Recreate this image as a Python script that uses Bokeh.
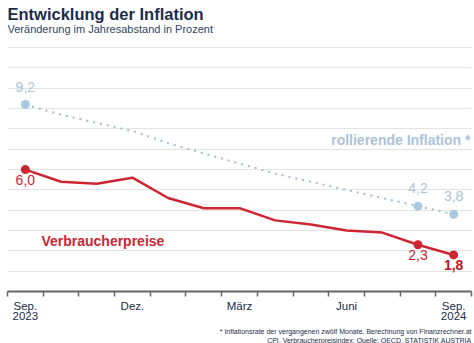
from bokeh.plotting import figure
from bokeh.models import Range1d, FixedTicker, ColumnDataSource, Title
from bokeh.embed import file_html
from bokeh.resources import INLINE
from bokeh.core.properties import value

# ---- data ----
months = ["Sep. 2023", "Okt.", "Nov.", "Dez.", "Jan.", "Feb.", "März",
          "Apr.", "Mai", "Juni", "Juli", "Aug.", "Sep. 2024"]
cpi = [6.0, 5.4, 5.3, 5.6, 4.6, 4.1, 4.1, 3.5, 3.3, 3.0, 2.9, 2.3, 1.8]
rolling = [9.2, 8.7, 8.3, 7.9, 7.3, 6.8, 6.3, 5.8, 5.4, 5.0, 4.6, 4.2, 3.8]
tick_label_idx = [0, 3, 6, 9, 12]
tick_label_txt = ["Sep.\n2023", "Dez.", "März", "Juni", "Sep.\n2024"]
highlight_idx = [0, 11, 12]
grid_values = list(range(1, 13))
title_txt = "Entwicklung der Inflation"
subtitle_txt = "Veränderung im Jahresabstand in Prozent"
foot_txt = ["* Inflationsrate der vergangenen zwölf Monate. Berechnung von Finanzrechner.at",
            "CPI, Verbraucherpreisindex; Quelle: OECD, STATISTIK AUSTRIA"]

FONT = "Liberation Sans"
RED = "#cc2631"
RED_DARK = "#c0151f"
BLUE_PT = "#a9c9e3"
BLUE_LINE = "#a3bccb"
BLUE_TXT = "#abc4d8"
NAVY = "#1c2d4a"

W, H = 474, 343
BOTTOM = 48
PX_PER_UNIT = 20.6
Y_END = (H - BOTTOM) / PX_PER_UNIT     # frame reaches the top of the canvas
X0, X1 = -0.5, len(months) - 0.5

xs = list(range(len(months)))

def fmt(v):
    return f"{v:.1f}".replace(".", ",")

p = figure(width=W, height=H, output_backend="svg", toolbar_location=None,
           x_range=Range1d(X0, X1), y_range=Range1d(0, Y_END),
           min_border_left=7, min_border_right=3, min_border_top=0,
           min_border_bottom=BOTTOM, title=None)
p.outline_line_color = None
p.background_fill_color = "white"
p.border_fill_color = "white"

# grid
p.xgrid.visible = False
p.yaxis.visible = False
p.ygrid.ticker = FixedTicker(ticks=grid_values)
p.ygrid.grid_line_color = "#e3e3e3"
p.ygrid.grid_line_width = 1.2

# x axis
ax = p.xaxis[0]
ax.ticker = FixedTicker(ticks=tick_label_idx,
                        minor_ticks=[i - 0.5 for i in range(len(months) + 1)])
ax.major_label_overrides = {i: t for i, t in zip(tick_label_idx, tick_label_txt)}
ax.major_tick_line_color = None
ax.major_tick_out = 0
ax.major_tick_in = 0
ax.minor_tick_out = 5
ax.minor_tick_in = 0
ax.minor_tick_line_color = "#666666"
ax.minor_tick_line_width = 1.5
ax.axis_line_color = "#666666"
ax.axis_line_width = 2
ax.major_label_standoff = 3
ax.major_label_text_font = FONT
ax.major_label_text_font_size = "11.5px"
ax.major_label_text_color = NAVY
ax.major_label_text_line_height = 0.9

# footnote lines below the axis, each right aligned
for txt in foot_txt:
    p.add_layout(Title(text=txt, align="right", text_font=FONT, text_font_size="7px",
                       text_font_style="normal", text_color=NAVY, standoff=0,
                       text_line_height=1.0), "below")

# title and subtitle inside the (tall) frame, anchored to its top edge
p.text([X0], [Y_END], text=[title_txt], text_align="left", text_baseline="alphabetic",
       y_offset=13.5, text_font=value(FONT), text_font_size="16.5px",
       text_font_style="bold", text_color=NAVY)
p.text([X0], [Y_END], text=[subtitle_txt], text_align="left", text_baseline="alphabetic",
       y_offset=28.3, text_font=value(FONT), text_font_size="11px", text_color="#33445a")

# rolling inflation (dotted)
p.line(xs, rolling, line_color=BLUE_LINE, line_width=2, line_dash="2 5")
p.scatter([xs[i] for i in highlight_idx], [rolling[i] for i in highlight_idx],
          size=9, fill_color=BLUE_PT, line_color=None)

# CPI line
p.line(xs, cpi, line_color=RED, line_width=2.5, line_join="round")
p.scatter([xs[i] for i in highlight_idx], [cpi[i] for i in highlight_idx],
          size=9, fill_color=RED, line_color=None)

# value labels
rs = ColumnDataSource(dict(x=[xs[i] for i in highlight_idx],
                           y=[rolling[i] for i in highlight_idx],
                           t=[fmt(rolling[i]) for i in highlight_idx]))
p.text("x", "y", text="t", source=rs, text_align="center", text_baseline="middle",
       y_offset=-18, text_font=value(FONT), text_font_size="14px", text_color=BLUE_TXT)

cs = ColumnDataSource(dict(x=[xs[i] for i in highlight_idx[:2]],
                           y=[cpi[i] for i in highlight_idx[:2]],
                           t=[fmt(cpi[i]) for i in highlight_idx[:2]]))
p.text("x", "y", text="t", source=cs, text_align="center", text_baseline="middle",
       y_offset=10, text_font=value(FONT), text_font_size="14px", text_color=RED)
p.text([xs[-1]], [cpi[-1]], text=[fmt(cpi[-1])], text_align="center",
       text_baseline="middle", y_offset=10, text_font=value(FONT),
       text_font_size="14px", text_font_style="bold", text_color=RED_DARK)

# series names
p.text([12.47], [7.48], text=["rollierende Inflation *"], text_align="right",
       text_baseline="middle", text_font=value(FONT), text_font_size="14px",
       text_font_style="bold", text_color=BLUE_TXT)
p.text([0.45], [2.48], text=["Verbraucherpreise"], text_align="left",
       text_baseline="middle", text_font=value(FONT), text_font_size="14px",
       text_font_style="bold", text_color=RED)

open("out.html", "w").write(file_html(p, INLINE))
